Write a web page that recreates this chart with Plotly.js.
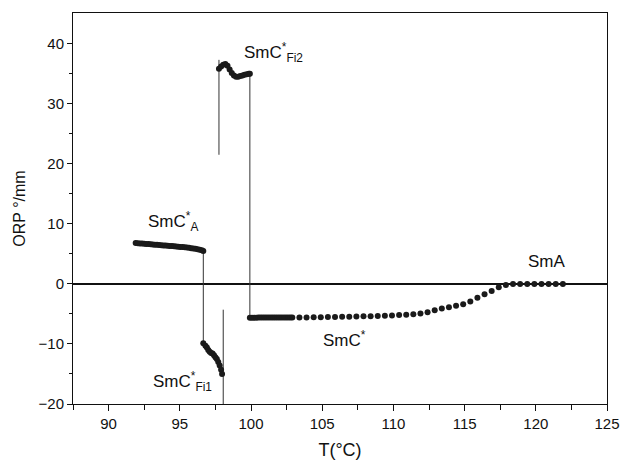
<!DOCTYPE html>
<html>
<head>
<meta charset="utf-8">
<script src="https://cdn.plot.ly/plotly-3.0.1.min.js"></script>
<style>html,body{margin:0;padding:0;background:#fff;}#chart{width:620px;height:467px;}</style>
</head>
<body>
<div id="chart"></div>
<script>
// SmC*A phase
const smcaT = [91.9,92.05,92.2,92.35,92.5,92.65,92.8,92.95,93.1,93.25,93.4,93.55,93.7,93.85,94.0,94.15,94.3,94.45,94.6,94.75,94.9,95.05,95.2,95.35,95.5,95.65,95.8,95.95,96.1,96.25,96.4,96.55,96.65];
const smcaORP = [6.8,6.77,6.74,6.71,6.68,6.65,6.62,6.59,6.56,6.53,6.5,6.47,6.44,6.41,6.38,6.35,6.32,6.29,6.26,6.23,6.2,6.16,6.12,6.08,6.04,6.0,5.95,5.9,5.84,5.77,5.68,5.58,5.48];
// SmC*Fi1 phase
const fi1T = [96.65,96.8,96.9,97.0,97.1,97.2,97.3,97.4,97.5,97.6,97.7,97.8,97.9,97.97];
const fi1ORP = [-9.9,-10.3,-10.6,-11.0,-11.3,-11.5,-11.6,-11.9,-12.2,-12.5,-13.0,-13.6,-14.3,-15.0];
// SmC*Fi2 phase
const fi2T = [97.75,97.9,98.05,98.2,98.35,98.5,98.65,98.8,98.95,99.1,99.25,99.4,99.55,99.7,99.85,99.92];
const fi2ORP = [35.8,36.2,36.5,36.6,36.3,35.7,35.1,34.7,34.5,34.5,34.6,34.7,34.8,34.9,35.0,35.0];
// SmC* and SmA phases
const smcT = [99.92,100.07,100.22,100.37,100.52,100.67,100.82,100.97,101.12,101.27,101.42,101.57,101.72,101.87,102.02,102.17,102.32,102.47,102.62,102.77,102.9,
  103.4,103.9,104.4,104.9,105.4,105.9,106.4,106.9,107.4,107.9,108.4,108.9,109.4,109.9,110.4,110.9,111.4,111.9,112.4,112.9,113.4,113.9,114.4,114.9,115.4,115.9,116.4,116.9,117.4,117.9,118.4,118.9,119.4,119.9,120.4,120.9,121.4,121.9];
const smcORP = [-5.62,-5.62,-5.62,-5.62,-5.61,-5.61,-5.61,-5.61,-5.61,-5.61,-5.61,-5.6,-5.6,-5.6,-5.6,-5.6,-5.6,-5.6,-5.6,-5.6,-5.6,
  -5.6,-5.58,-5.56,-5.54,-5.52,-5.5,-5.48,-5.46,-5.43,-5.4,-5.37,-5.34,-5.3,-5.26,-5.2,-5.13,-5.04,-4.92,-4.72,-4.4,-4.08,-3.88,-3.66,-3.4,-2.92,-2.33,-1.72,-1.17,-0.56,-0.17,0,0,0,0,0,0,0,0];
// vertical transition lines (null separates segments)
const transT = [96.65,96.65,null,98.05,98.05,null,97.75,97.75,null,99.92,99.92];
const transORP = [5.48,-9.9,null,-20,-4.3,null,21.5,37.3,null,35.0,-5.62];

const xTicks = [90,95,100,105,110,115,120,125];
const yTicks = [-20,-10,0,10,20,30,40];

const labels = [
  {t:92.6, v:10.4, s:'SmC<sup>*</sup><sub>A</sub>'},
  {t:99.35, v:38.6, s:'SmC<sup>*</sup><sub>Fi2</sub>'},
  {t:92.95, v:-16.2, s:'SmC<sup>*</sup><sub>Fi1</sub>'},
  {t:104.9, v:-9.2, s:'SmC<sup>*</sup>'},
  {t:119.3, v:3.7, s:'SmA'}
];

const mk = {color:'#1a1a1a', size:6};
const traces = [
  {x:transT, y:transORP, mode:'lines', line:{color:'#333', width:1}, connectgaps:false, hoverinfo:'skip'},
  {x:smcaT, y:smcaORP, mode:'markers', marker:mk},
  {x:fi1T, y:fi1ORP, mode:'markers', marker:mk},
  {x:fi2T, y:fi2ORP, mode:'markers', marker:mk},
  {x:smcT, y:smcORP, mode:'markers', marker:mk}
];

const font = {family:'Liberation Sans, Arial, sans-serif', color:'#111'};
const layout = {
  width:620, height:467,
  margin:{l:73, r:13, t:13, b:63},
  paper_bgcolor:'#fff', plot_bgcolor:'#fff',
  showlegend:false,
  font:font,
  xaxis:{
    range:[87.5,125], tickvals:xTicks, ticklabeloverflow:'allow',
    ticks:'outside', ticklen:6, tickwidth:1, tickcolor:'#111',
    minor:{tickvals:[87.5,92.5,97.5,102.5,107.5,112.5,117.5,122.5], ticks:'outside', ticklen:5, tickcolor:'#111'},
    showline:true, linecolor:'#111', linewidth:1, mirror:true,
    showgrid:false, zeroline:false,
    tickfont:{size:15, family:font.family, color:'#111'},
    title:{text:'T(°C)', font:{size:18, family:font.family, color:'#111'}, standoff:12}
  },
  yaxis:{
    range:[-20,45.1], tickvals:yTicks,
    ticks:'outside', ticklen:5, tickwidth:1, tickcolor:'#111',
    minor:{tickvals:[-15,-5,5,15,25,35], ticks:'outside', ticklen:3, tickcolor:'#111'},
    showline:true, linecolor:'#111', linewidth:1, mirror:true,
    showgrid:false, zeroline:true, zerolinecolor:'#111', zerolinewidth:1.3,
    tickfont:{size:15, family:font.family, color:'#111'},
    title:{text:'ORP °/mm', font:{size:16, family:font.family, color:'#111'}, standoff:8}
  },
  annotations: labels.map(l => ({x:l.t, y:l.v, xref:'x', yref:'y', text:l.s, showarrow:false, xanchor:'left', yanchor:'middle', font:{size:17, family:font.family, color:'#111'}}))
};
Plotly.newPlot('chart', traces, layout, {displayModeBar:false, staticPlot:true});
</script>
</body>
</html>
